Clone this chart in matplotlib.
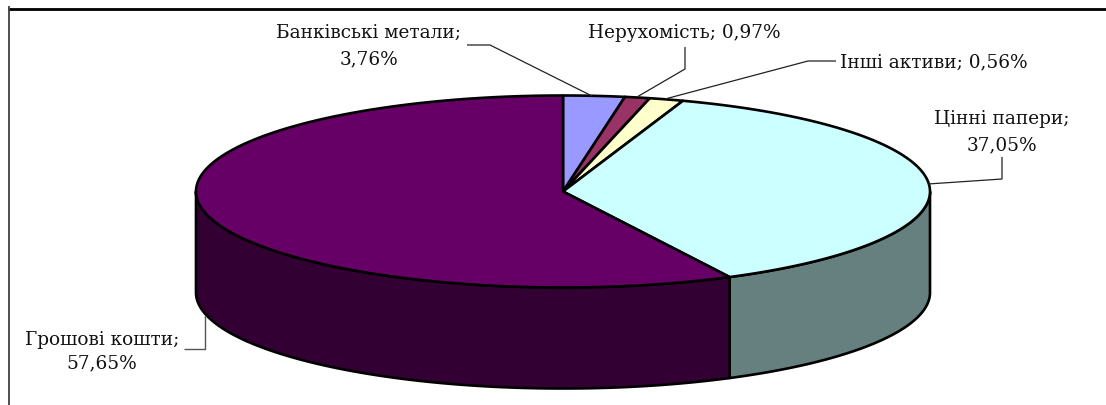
import numpy as np
import matplotlib
matplotlib.use("Agg")
import matplotlib.pyplot as plt
from matplotlib.patches import Polygon

plt.rcParams['font.family'] = ['DejaVu Serif']

# order: clockwise from 12 o'clock, as drawn
categories = ["Банківські метали", "Нерухомість", "Інші активи", "Цінні папери", "Грошові кошти"]
label_values = ["3,76%", "0,97%", "0,56%", "37,05%", "57,65%"]
# slice shares as measured on the rim of the picture
shares = [2.7, 1.1, 1.5, 37.2, 57.5]
top_colors = ["#9999FF", "#993366", "#FFFFCC", "#CCFFFF", "#660066"]
side_colors = ["#666699", "#662244", "#999988", "#668080", "#330033"]

W, H = 1106, 406
CX, CY, RX, RY, DEPTH = 563, 192.5, 367, 96, 101

fig = plt.figure(figsize=(W / 100, H / 100), dpi=100)
ax = fig.add_axes([0, 0, 1, 1])
ax.set_xlim(0, W)
ax.set_ylim(H, 0)
ax.axis("off")


def rim(theta):
    return CX + RX * np.sin(theta), CY - RY * np.cos(theta)


edges = np.radians(np.concatenate([[0], np.cumsum(shares)]) / sum(shares) * 360)
lw = 1.9

# side walls (only the front half of the rim is visible)
for i in range(len(shares)):
    a, b = max(edges[i], np.pi / 2), min(edges[i + 1], 3 * np.pi / 2)
    if b <= a:
        continue
    t = np.linspace(a, b, 200)
    x, y = rim(t)
    pts = np.r_[np.c_[x, y], np.c_[x[::-1], y[::-1] + DEPTH]]
    ax.add_patch(Polygon(pts, closed=True, fc=side_colors[i], ec="black", lw=lw, joinstyle="round"))

# top faces
for i in range(len(shares)):
    t = np.linspace(edges[i], edges[i + 1], 200)
    x, y = rim(t)
    pts = np.r_[[[CX, CY]], np.c_[x, y]]
    ax.add_patch(Polygon(pts, closed=True, fc=top_colors[i], ec="black", lw=lw, joinstyle="round"))

# frame
ax.plot([8, W], [9.6, 9.6], color="black", lw=2.0, solid_capstyle="butt")
ax.plot([9, 9], [7, H], color="#404040", lw=1.3, solid_capstyle="butt")

# labels and leader lines
fs = 13.3
tk = dict(fontsize=fs, color="#111111", ha="center", va="center")
ax.text(369, 33, categories[0] + ";", **tk)
ax.text(369, 59, label_values[0], **tk)
ax.text(684, 33, categories[1] + "; " + label_values[1], **tk)
ax.text(934, 62, categories[2] + "; " + label_values[2], **tk)
ax.text(1002, 119, categories[3] + ";", **tk)
ax.text(1002, 145, label_values[3], **tk)
ax.text(102, 340, categories[4] + ";", **tk)
ax.text(102, 363, label_values[4], **tk)

lk = dict(color="#222222", lw=0.9, solid_capstyle="butt")
ax.plot([467, 490, 592], [46, 46, 97], **lk)
ax.plot([685, 685, 637], [48, 70, 98], **lk)
ax.plot([836, 808, 665], [62, 62, 100], **lk)
ax.plot([1002, 1002, 928], [158, 180, 185], **lk)
ax.plot([184, 205, 205], [350, 350, 316], color="#555555", lw=1.0, solid_capstyle="butt")

fig.savefig("out.png", dpi=100)
